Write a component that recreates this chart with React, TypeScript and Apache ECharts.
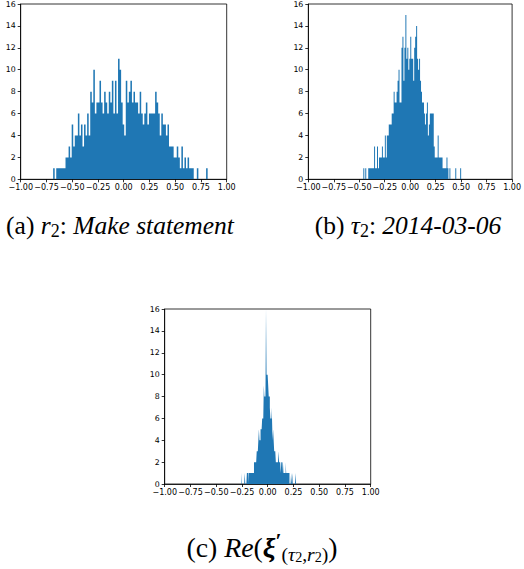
import React, { useEffect, useRef } from "react";
import * as echarts from "echarts";

// Histogram (a): r2 "Make statement" — 100 bins starting at binStartA
const binStartA = -0.685;
const binWidthA = 0.015;
const countsA = [
  1, 0, 1, 1, 1, 1, 1, 1, 2, 2,
  3, 2, 5, 3, 4, 4, 6, 4, 5, 3,
  5, 4, 6, 4, 8, 7, 10, 6, 7, 7,
  9, 7, 6, 8, 7, 6, 8, 7, 9, 6,
  9, 6, 11, 10, 7, 5, 4, 9, 7, 8,
  9, 7, 8, 7, 7, 6, 8, 6, 5, 6,
  7, 5, 6, 6, 6, 6, 8, 7, 6, 4,
  6, 5, 5, 4, 5, 3, 3, 3, 2, 2,
  3, 2, 1, 3, 1, 2, 1, 2, 1, 1,
  1, 0, 0, 1, 0, 0, 0, 0, 0, 1,
];

// Histogram (b): tau2 "2014-03-06"
const binStartB = -0.46;
const binWidthB = 0.0096;
const countsB = [
  1, 0, 1, 0, 0, 1, 1, 1, 1, 1,
  1, 3, 1, 1, 3, 1, 2, 2, 2, 3,
  2, 2, 4, 2, 4, 4, 5, 5, 5, 6,
  6, 8, 7, 7, 8, 9, 10, 7, 7, 12,
  13, 9, 12, 15, 11, 12, 10, 11, 13, 11,
  11, 9, 12, 13, 14, 11, 10, 11, 9, 8,
  7, 7, 6, 5, 6, 7, 4, 5, 6, 6,
  6, 6, 3, 2, 2, 2, 4, 2, 2, 2,
  2, 1, 1, 1, 1, 2, 1, 0, 1, 0,
  0, 0, 0, 0, 1, 0, 0, 0, 0, 1,
];

// Histogram (c): Re(xi'(tau2, r2))
const binStartC = -0.255;
const binWidthC = 0.0053;
const countsC = [
  1, 0, 0, 0, 0, 0, 1, 0, 0, 0,
  1, 1, 0, 1, 1, 1, 1, 1, 1, 1,
  1, 1, 1, 2, 2, 2, 2, 2, 3, 3,
  3, 4, 5, 4, 4, 5, 5, 5, 6, 6,
  6, 9, 8, 8, 8, 16, 10, 10, 10, 9,
  8, 8, 7, 6, 6, 7, 6, 4, 5, 4,
  3, 3, 3, 2, 2, 2, 2, 2, 3, 2,
  2, 2, 1, 2, 2, 1, 2, 1, 1, 1,
  1, 2, 1, 1, 1, 1, 1, 1, 0, 0,
  0, 1, 0, 1, 0, 0, 0, 0, 0, 1,
];

const xTicks = { min: -1, max: 1, interval: 0.25 };
const yTicks = { min: 0, max: 16, interval: 2 };

const BAR = "#1f77b4";
const TICK_FONT = "DejaVu Sans";
const SERIF = "Liberation Serif";

// step-outline points: [left edge of bin i, count i], closed by the right edge of the last bin
function toSteps(start: number, width: number, counts: number[]) {
  const pts = counts.map((c, i) => [start + width * i, c]);
  pts.push([start + width * counts.length, counts[counts.length - 1]]);
  return pts;
}

const grids = [
  { left: 20.7, top: 4, width: 206, height: 175.3 },
  { left: 308.3, top: 4, width: 206, height: 175.3 },
  { left: 164.7, top: 309, width: 206, height: 175 },
];

function fmtX(v: number) {
  return v.toFixed(2).replace("-", "\u2212");
}

function rich(scale: number) {
  return {
    n: { fontFamily: SERIF, fontSize: 25.5 * scale, lineHeight: 30 * scale, color: "#000" },
    i: { fontFamily: SERIF, fontSize: 25.5 * scale, fontStyle: "italic", lineHeight: 30 * scale, color: "#000" },
    s: { fontFamily: SERIF, fontSize: 18 * scale, lineHeight: 17 * scale, verticalAlign: "bottom", color: "#000" },
    b: { fontFamily: SERIF, fontSize: 26 * scale, fontStyle: "italic", fontWeight: "bold", lineHeight: 30 * scale, color: "#000" },
    p: { fontFamily: SERIF, fontSize: 20 * scale, fontWeight: "bold", lineHeight: 32 * scale, verticalAlign: "top", color: "#000" },
    si: { fontFamily: SERIF, fontSize: 18 * scale, fontStyle: "italic", lineHeight: 17 * scale, verticalAlign: "bottom", color: "#000" },
    ss: { fontFamily: SERIF, fontSize: 13 * scale, lineHeight: 11 * scale, verticalAlign: "bottom", color: "#000" },
  };
}

export default function App() {
  const ref = useRef<HTMLDivElement>(null);
  useEffect(() => {
    if (!ref.current) return;
    const chart = echarts.init(ref.current, null, { renderer: "svg" });
    const datasets = [
      toSteps(binStartA, binWidthA, countsA),
      toSteps(binStartB, binWidthB, countsB),
      toSteps(binStartC, binWidthC, countsC),
    ];
    chart.setOption({
      animation: false,
      backgroundColor: "#fff",
      grid: grids.map((g) => ({
        ...g,
        show: true,
        borderColor: "#000",
        borderWidth: 0.8,
        containLabel: false,
      })),
      xAxis: grids.map((_, k) => ({
        type: "value",
        gridIndex: k,
        min: xTicks.min,
        max: xTicks.max,
        interval: xTicks.interval,
        axisLine: { show: true, onZero: false, lineStyle: { color: "#000", width: 0.8 } },
        axisTick: { show: true, length: 3, lineStyle: { color: "#000", width: 0.8 } },
        axisLabel: {
          show: true,
          formatter: fmtX,
          fontFamily: TICK_FONT,
          fontSize: 8,
          color: "#000",
          margin: 4,
          showMinLabel: true,
          showMaxLabel: true,
          hideOverlap: false,
        },
        splitLine: { show: false },
      })),
      yAxis: grids.map((_, k) => ({
        type: "value",
        gridIndex: k,
        min: yTicks.min,
        max: yTicks.max,
        interval: yTicks.interval,
        axisLine: { show: true, onZero: false, lineStyle: { color: "#000", width: 0.8 } },
        axisTick: { show: true, length: 3, lineStyle: { color: "#000", width: 0.8 } },
        axisLabel: {
          show: true,
          fontFamily: TICK_FONT,
          fontSize: 7.8,
          color: "#000",
          margin: 5,
          showMinLabel: true,
          showMaxLabel: true,
        },
        splitLine: { show: false },
      })),
      series: datasets.map((d, k) => ({
        type: "line",
        xAxisIndex: k,
        yAxisIndex: k,
        data: d,
        step: "end",
        showSymbol: false,
        symbol: "none",
        silent: true,
        lineStyle: { width: 0, opacity: 0 },
        areaStyle: { color: BAR, opacity: 1, origin: "start" },
      })),
      graphic: [
        {
          type: "text",
          x: 120,
          y: 225,
          style: {
            text: "{n|(a) }{i|r}{s|2}{n|: }{i|Make statement}",
            rich: rich(1),
            align: "center",
            verticalAlign: "middle",
          },
        },
        {
          type: "text",
          x: 408,
          y: 225,
          style: {
            text: "{n|(b) }{i|\u03c4}{s|2}{n|: }{i|2014-03-06}",
            rich: rich(1),
            align: "center",
            verticalAlign: "middle",
          },
        },
        {
          type: "text",
          x: 262,
          y: 547,
          style: {
            text: "{n|(c) }{i|Re}{n|(}{b|\u03be}{p|\u2032}{s|(}{si|\u03c4}{ss|2}{s|,}{si|r}{ss|2}{s|)}{n|)}",
            rich: rich(1.09),
            align: "center",
            verticalAlign: "middle",
          },
        },
      ],
    });
    return () => chart.dispose();
  }, []);
  return (
    <div
      ref={ref}
      style={{ position: "fixed", left: 0, top: 0, width: 524, height: 569, background: "#fff" }}
    />
  );
}
